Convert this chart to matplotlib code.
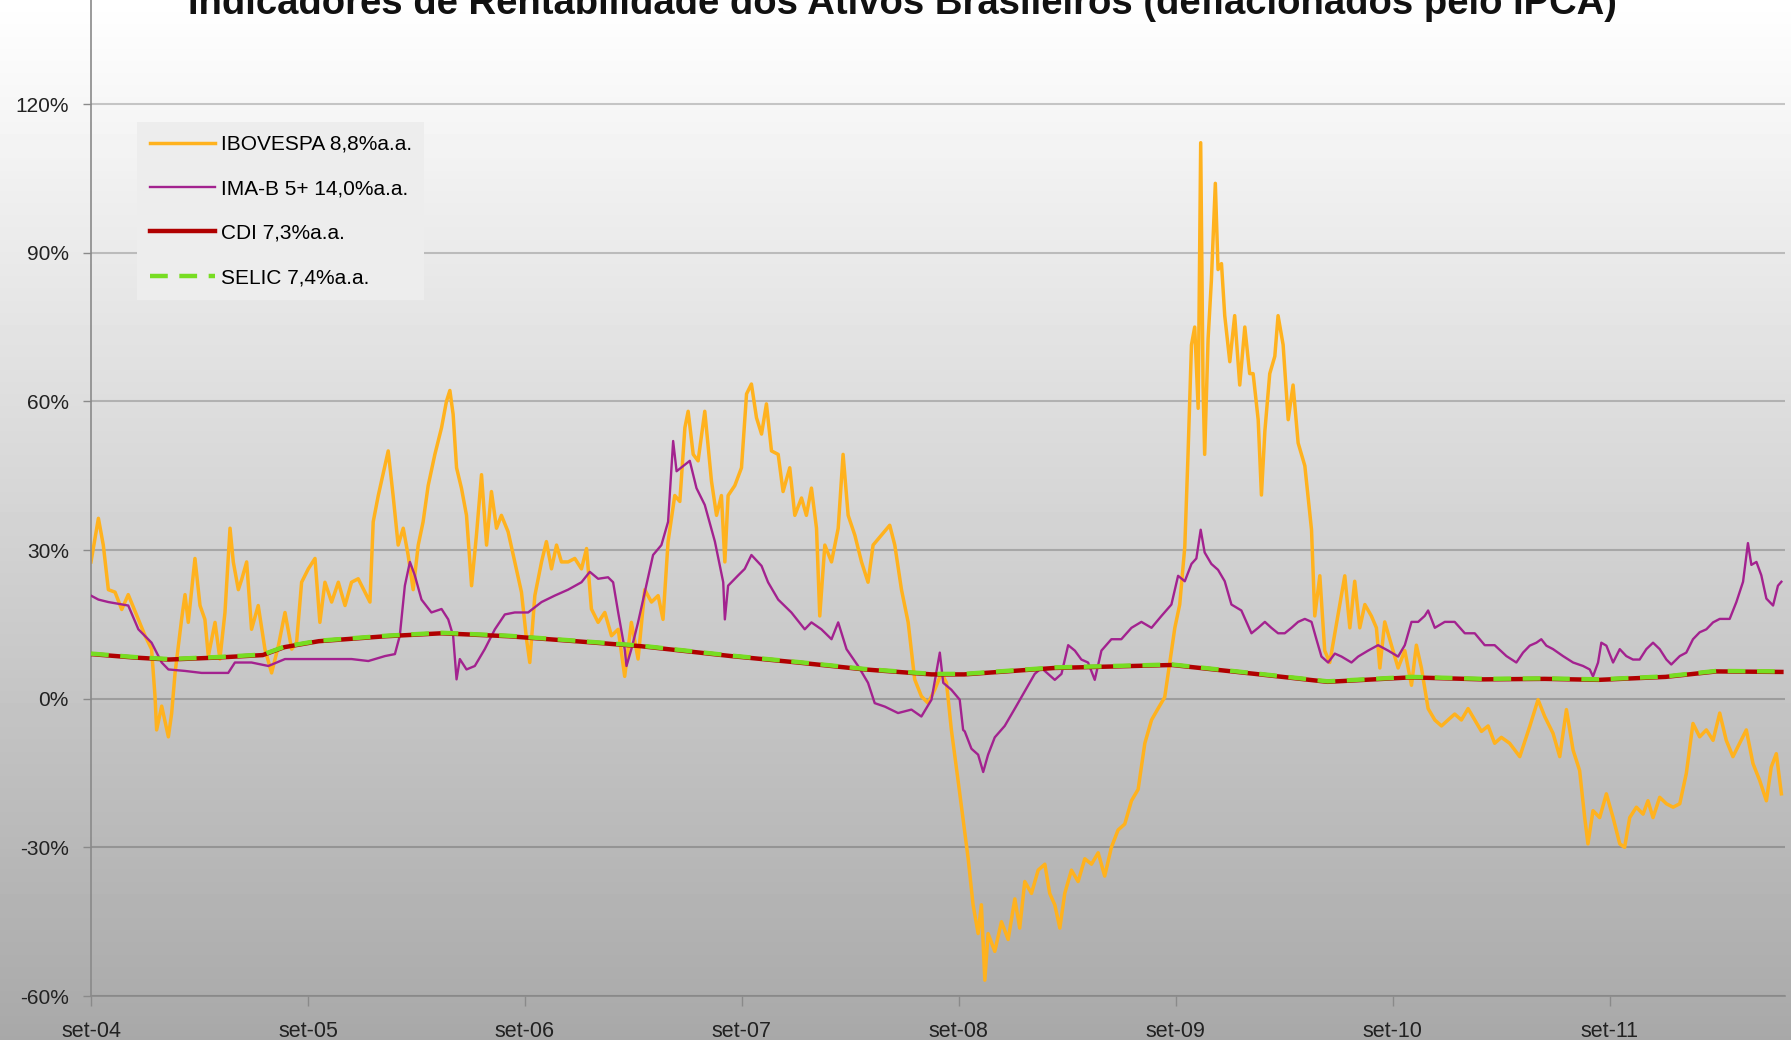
import numpy as np
import matplotlib.pyplot as plt

# months counted from set-04
ibov_m = [0.0, 0.41, 0.68, 0.96, 1.33, 1.70, 2.06, 2.62, 2.99, 3.35, 3.54, 3.63, 3.91, 4.28, 4.46, 4.65,
          5.01, 5.20, 5.38, 5.75, 6.03, 6.30, 6.49, 6.86, 7.13, 7.41, 7.69, 7.87, 8.15, 8.33, 8.61, 8.88,
          9.25, 9.62, 9.99, 10.36, 10.73, 11.10, 11.37, 11.65, 12.02, 12.39, 12.66, 12.94, 13.31, 13.68,
          14.05, 14.41, 14.78, 15.15, 15.43, 15.61, 15.89,
          16.44, 16.71, 16.99, 17.27, 17.54, 17.82, 18.10, 18.37, 18.65, 19.02, 19.39, 19.66, 19.85, 20.03,
          20.22, 20.49, 20.77, 21.05, 21.32, 21.60, 21.88, 22.15, 22.43, 22.70, 23.07, 23.44, 23.81, 24.09,
          24.27, 24.55, 24.92, 25.19, 25.47, 25.75, 26.02, 26.39, 26.76, 27.13, 27.41, 27.68, 28.05, 28.42,
          28.79, 29.16, 29.52, 29.89, 30.26, 30.63, 31.00, 31.37, 31.64, 31.92,
          32.29, 32.57, 32.85, 33.03, 33.31, 33.58, 33.95, 34.32, 34.60, 34.87, 35.06, 35.24, 35.61, 35.98,
          36.26, 36.53, 36.81, 37.09, 37.36, 37.64, 38.01, 38.28, 38.65, 38.93, 39.30, 39.57, 39.85, 40.13,
          40.31, 40.59, 40.96, 41.33, 41.60, 41.88, 42.25, 42.62, 42.98, 43.26, 43.72, 44.18, 44.46, 44.83,
          45.20, 45.56, 45.93, 46.30, 46.67, 47.04, 47.32, 47.59, 47.96,
          48.52, 48.79, 49.07, 49.25, 49.44, 49.62, 49.99, 50.36, 50.73, 51.10, 51.37, 51.65, 52.02, 52.39,
          52.76, 53.03, 53.31, 53.59, 53.86, 54.23, 54.60, 54.97, 55.34, 55.71, 56.07, 56.44, 56.81, 57.18,
          57.55, 57.92, 58.29, 58.66, 59.02, 59.39, 59.67, 59.95, 60.22, 60.50, 60.68, 60.87, 61.05, 61.24,
          61.38, 61.51, 61.60, 61.79, 61.97, 62.19, 62.34, 62.53, 62.71, 62.99, 63.26, 63.54, 63.82, 64.09,
          64.28, 64.56, 64.74, 64.93, 65.20, 65.48, 65.66, 65.94, 66.22, 66.49, 66.77, 67.14, 67.51, 67.69,
          67.97, 68.24, 68.52, 68.80, 69.07, 69.35, 69.63, 69.90, 70.18, 70.46, 70.82, 71.10, 71.29, 71.56,
          71.93, 72.30, 72.67, 73.04, 73.31, 73.59, 73.96, 74.33, 74.70, 75.06, 75.43, 75.80, 76.17, 76.54,
          76.91, 77.28, 77.64, 78.01,
          78.47, 79.03, 79.58, 80.04, 80.41, 80.87, 81.24, 81.61, 81.98, 82.34, 82.62, 82.80, 83.08, 83.45,
          83.82, 84.19, 84.56, 84.83, 85.11, 85.48, 85.85, 86.12, 86.40, 86.77, 87.14, 87.51, 87.88, 88.24,
          88.61, 88.98, 89.35, 89.72, 90.09, 90.45, 90.82, 91.19, 91.56, 91.93, 92.30, 92.67, 92.94, 93.22,
          93.50]
ibov_v = [27.6, 36.4, 31, 22, 21.5, 18, 21, 16, 12.7, 10, 0.5, -6.3, -1.5, -7.7, -3, 5.2,
          16, 21, 15.4, 28.3, 18.8, 16, 8.6, 15.4, 8, 17.4, 34.4, 27.6, 22, 24, 27.6, 14,
          18.8, 10, 5.2, 10.6, 17.4, 10, 11.3, 23.5, 26.2, 28.3, 15.4, 23.5, 19.5, 23.5,
          18.8, 23.5, 24.2, 21.5, 19.5, 35.7, 41,
          50, 41, 31, 34.4, 29, 22, 31, 35.7, 43, 49.3, 54.7, 60, 62.2, 57.4,
          46.6, 42.5, 37, 22.8, 33, 45.2, 31, 41.8, 34.4, 37, 33.7, 27.6, 21.5, 12,
          7.3, 20.8, 27.6, 31.7, 26.2, 31, 27.6, 27.6, 28.3, 26.2, 30.3, 18.1, 15.4, 17.4,
          12.7, 14, 4.5, 15.4, 8, 22, 19.5, 20.8, 16, 31.7,
          41, 39.8, 54.7, 58, 49.3, 48, 58, 43.9, 37, 41, 27.6, 41, 43, 46.6,
          61.5, 63.5, 56.7, 53.4, 59.5, 50, 49.3, 41.8, 46.6, 37, 40.5, 37, 42.5, 34.4,
          16.7, 31, 27.6, 34.4, 49.3, 37, 33, 27.6, 23.5, 31, 33, 35, 31, 22,
          15.4, 3.9, 0.5, -0.9, 1.8, 5.2, 3.2, -6.3, -16.5,
          -32.3, -41.6, -47.4, -41.6, -56.8, -47.4, -51, -45, -48.6, -40.4, -46.3, -36.9, -39.3, -34.6,
          -33.4, -39.3, -41.6, -46.3, -39.3, -34.6, -36.9, -32.3, -33.4, -31.1, -35.8, -30, -26.5, -25.3,
          -20.6, -18.3, -9, -4.3, -2, 0.3, 7.3, 14.3, 19, 30.6, 49.3, 71.4, 75, 58.6,
          112.2, 63.3, 49.3, 72.6, 84.3, 104, 86.6, 87.8, 77.3, 68, 77.3, 63.3, 75, 65.6,
          65.6, 56.3, 41.1, 54, 65.6, 69.1, 77.3, 71.4, 56.3, 63.3, 51.6, 47, 34.1, 16.7,
          24.8, 9.7, 7.3, 13.2, 19, 24.8, 14.3, 23.7, 14.3, 19, 16.7, 14.3, 6.2, 15.5,
          10.8, 6.2, 9.7, 2.7, 10.8, 6.2, -2, -4.3, -5.5, -4.3, -3.1, -4.3, -2, -4.3,
          -6.6, -5.5, -9, -7.8,
          -9, -11.7, -5.6, -0.2, -3.6, -7, -11.7, -2.2, -10.4, -14.5, -24, -29.3, -22.6, -24,
          -19.2, -24, -29.3, -30, -24, -21.9, -23.3, -20.6, -24, -19.9, -21.2, -21.9, -21.2, -15.1,
          -5, -7.7, -6.3, -8.4, -2.9, -8.4, -11.7, -9, -6.3, -13.1, -16.5, -20.6, -13.8, -11.1,
          -19.2]

imab_m = [0.0, 0.41, 0.96, 2.06, 2.62, 3.35, 3.91, 4.28, 5.20, 6.12, 7.59, 7.96, 8.88, 9.81, 10.73,
          12.57, 14.41, 15.34, 16.26, 16.81, 17.08, 17.36, 17.64, 17.91, 18.28, 18.83, 19.39, 19.76,
          20.03, 20.22, 20.40, 20.77, 21.23, 21.78, 22.34, 22.89, 23.44, 24.18, 24.92, 25.65, 26.39,
          27.13, 27.59, 28.05, 28.60, 28.88, 29.16, 29.52, 29.62, 29.89, 30.26, 30.63, 31.09, 31.55,
          31.92, 32.20, 32.39, 33.12, 33.49, 33.95, 34.51, 34.97, 35.06, 35.24, 35.80, 36.16, 36.53,
          37.09, 37.45, 38.01, 38.74, 39.48, 39.85, 40.40, 40.96, 41.33, 41.79, 42.43, 42.98, 43.35,
          43.91, 44.64, 45.38, 45.93, 46.49, 46.95, 47.14, 47.59, 48.05, 48.24, 48.33, 48.70, 49.07,
          49.35, 49.62, 49.99, 50.54, 51.10, 51.65, 52.20, 52.57, 52.94, 53.31, 53.68, 54.05, 54.42,
          54.78, 55.15, 55.52, 55.89, 56.44, 56.99, 57.55, 58.10, 58.66, 59.21, 59.76, 60.13, 60.50,
          60.87, 61.14, 61.38, 61.60, 61.97, 62.34, 62.71, 63.08, 63.63, 64.19, 64.56, 64.93, 65.29,
          65.66, 66.03, 66.40, 66.77, 67.14, 67.51, 67.78, 68.06, 68.43, 68.80, 69.17, 69.72, 70.09,
          70.64, 71.19, 71.75, 72.30, 72.67, 73.04, 73.41, 73.77, 73.96, 74.33, 74.88, 75.43, 75.99,
          76.54, 77.09, 77.64, 78.29, 78.84, 79.21, 79.58, 79.95, 80.22, 80.50, 80.87, 81.42, 81.98,
          82.53, 82.90, 83.08, 83.36, 83.54, 83.82, 84.19, 84.56, 84.92, 85.29, 85.66, 86.03, 86.40,
          86.77, 87.14, 87.41, 87.88, 88.24, 88.61, 88.98, 89.35, 89.72, 90.09, 90.64, 91.01, 91.38,
          91.65, 91.84, 92.12, 92.39, 92.67, 93.04, 93.31, 93.50]
imab_v = [20.8, 20, 19.5, 18.8, 14, 11.3, 7.3, 5.9, 5.6, 5.2, 5.2, 7.3, 7.3, 6.6, 8,
          8, 8, 7.6, 8.6, 9, 12.7, 22.8, 27.6, 24.9, 20, 17.4, 18.1, 16,
          12.7, 3.9, 8, 5.9, 6.6, 10, 14, 17, 17.4, 17.4, 19.5, 20.8, 22,
          23.5, 25.6, 24.2, 24.5, 23.5, 17.4, 10, 6.6, 10, 15.4, 21.5, 29, 31,
          35.7, 52, 45.9, 48, 42.5, 39.1, 31.7, 23.5, 16, 22.8, 24.9, 26.2, 29,
          26.8, 23.5, 20, 17.4, 14, 15.4, 14, 12, 15.4, 10, 6.6, 3.2, -0.9,
          -1.6, -2.9, -2.2, -3.6, -0.2, 9.3, 3.2, 1.8, -0.2, -6.3, -6.6, -10.1, -11.3,
          -14.8, -11.3, -7.8, -5.5, -2, 1.5, 5, 6.2, 5, 3.8, 5, 10.8, 9.7,
          7.9, 7.3, 3.8, 9.7, 12, 12, 14.3, 15.5, 14.3, 16.7, 19, 24.8, 23.7,
          27.2, 28.3, 34.1, 29.5, 27.2, 26, 23.7, 19, 17.8, 13.2, 14.3, 15.5, 14.3,
          13.2, 13.2, 14.3, 15.5, 16.1, 15.5, 12, 8.5, 7.3, 9.1, 8.5, 7.3, 8.5,
          9.7, 10.8, 9.7, 8.5, 10.8, 15.5, 15.5, 16.7, 17.8, 14.3, 15.5, 15.5, 13.2,
          13.2, 10.8, 10.8, 8.6, 7.3, 9.3, 10.7, 11.3, 12, 10.7, 10, 8.6, 7.3,
          6.6, 5.9, 4.5, 7.3, 11.3, 10.7, 7.3, 10, 8.6, 7.9, 7.9, 10, 11.3,
          10, 7.9, 6.9, 8.6, 9.3, 12, 13.4, 14, 15.4, 16.1, 16.1, 19.5, 23.6,
          31.4, 27, 27.6, 24.9, 20.2, 18.8, 22.8, 23.6]

taxa_m = [0, 2.4, 4.3, 7.0, 9.5, 10.7, 12.6, 16.3, 19.4, 23.1, 26.8, 30.4, 35.4, 39.1, 42.8, 46.5,
          48.3, 53.3, 59.8, 64.4, 68.4, 73.0, 77.0, 80.4, 83.4, 87.1, 89.9, 93.5]
cdi_v = [9.0, 8.3, 7.9, 8.3, 8.8, 10.4, 11.6, 12.6, 13.2, 12.6, 11.6, 10.6, 8.6, 7.3, 5.9, 4.9,
         4.9, 6.2, 6.8, 5.0, 3.4, 4.3, 3.9, 4.0, 3.8, 4.4, 5.5, 5.4]
selic_v = [9.1, 8.4, 8.0, 8.4, 8.9, 10.5, 11.7, 12.7, 13.3, 12.7, 11.7, 10.7, 8.7, 7.4, 6.0, 5.0,
           5.0, 6.3, 6.9, 5.1, 3.5, 4.4, 4.0, 4.1, 3.9, 4.5, 5.6, 5.5]

labels = ['IBOVESPA 8,8%a.a.', 'IMA-B 5+ 14,0%a.a.', 'CDI 7,3%a.a.', 'SELIC 7,4%a.a.']
xtick_labels = ['set-04', 'set-05', 'set-06', 'set-07', 'set-08', 'set-09', 'set-10', 'set-11']
yticks = [-60, -30, 0, 30, 60, 90, 120]

plt.rcParams['font.family'] = ['Liberation Sans', 'DejaVu Sans']

fig = plt.figure(figsize=(17.91, 10.40), dpi=100)

# fundo em degradê
bg = fig.add_axes([0, 0, 1, 1], zorder=0)
bg.imshow(np.linspace(1.0, 0.66, 256).reshape(-1, 1), cmap='gray', vmin=0, vmax=1,
          aspect='auto', extent=[0, 1, 0, 1])
bg.axis('off')

ax = fig.add_axes([91 / 1791, 44 / 1040, 1694 / 1791, 996 / 1040], zorder=1)
ax.set_facecolor('none')

ax.plot(ibov_m, ibov_v, color='#FFB21E', lw=2.5, label=labels[0], zorder=2)
ax.plot(imab_m, imab_v, color='#A3228F', lw=1.7, label=labels[1], zorder=3)
ax.plot(taxa_m, cdi_v, color='#B00000', lw=3.2, label=labels[2], zorder=4)
ax.plot(taxa_m, selic_v, color='#77DD22', lw=3.2, ls=(0, (4, 2.6)), label=labels[3], zorder=5)

ax.set_xlim(0, 93.7)
ax.set_ylim(-60, 141)
ax.set_yticks(yticks)
ax.set_yticklabels([f'{v}%' for v in yticks])
ax.set_xticks(range(0, 85, 12))
ax.set_xticklabels(xtick_labels)
ax.grid(axis='y', color='black', alpha=0.2, lw=1.5)
ax.set_axisbelow(True)
for s in ['top', 'right']:
    ax.spines[s].set_visible(False)
for s in ['left', 'bottom']:
    ax.spines[s].set_color('#8a8a8a')
    ax.spines[s].set_linewidth(1.2)
ax.tick_params(axis='y', direction='out', length=6, width=1, color='#8a8a8a', pad=10,
               labelsize=15, labelcolor='#222222')
ax.tick_params(axis='x', direction='out', length=7, width=1, color='#8a8a8a', pad=11,
               labelsize=15.5, labelcolor='#222222')

leg = ax.legend(loc='upper left', bbox_to_anchor=(36 / 1694, 1 - 112 / 996), frameon=True,
                fontsize=15, handlelength=3.1, handletextpad=0.3, labelspacing=1.22,
                borderpad=0.6, facecolor='#EDEDED', edgecolor='none', framealpha=1)
leg.get_frame().set_boxstyle('square', pad=0)

fig.text(902 / 1791, 1026.5 / 1040,
         'Indicadores de Rentabilidade dos Ativos Brasileiros (deflacionados pelo IPCA)',
         ha='center', va='baseline', fontsize=27.5, fontweight='bold', color='#111111')

fig.savefig('out.png', dpi=100)
